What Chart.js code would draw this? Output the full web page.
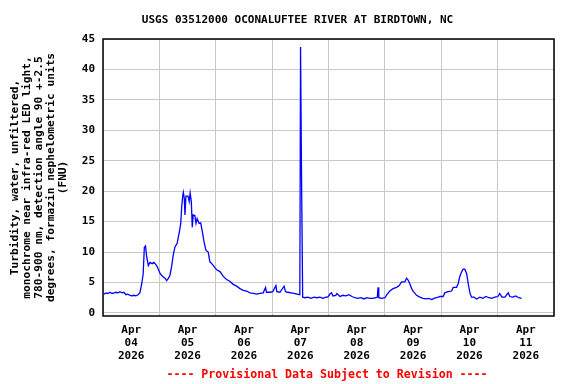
<!DOCTYPE html>
<html>
<head>
<meta charset="utf-8">
<script src="https://cdn.jsdelivr.net/npm/chart.js@4"></script>
<style>
  html, body { margin: 0; padding: 0; background: #fff; }
  #wrap { width: 576px; height: 384px; }
</style>
</head>
<body>
<div id="wrap"><canvas id="myChart" width="576" height="384"></canvas></div>
<script>
const ctx = document.getElementById("myChart");

// hours since Apr 04 2026 00:00
const hours = [
  0.4, 1.3, 2.1, 3.0, 3.8, 4.7, 5.5, 6.4, 7.2, 8.1, 8.9, 9.8, 10.6, 11.5, 12.3, 13.2, 14.0, 14.9, 15.7,
  16.5, 17.1, 17.6, 18.1, 18.6, 19.3, 20.0, 20.9, 21.7, 22.6, 23.2, 24.3, 24.9, 25.7, 26.4, 27.1, 27.9,
  28.5, 29.2, 29.9, 30.6, 31.6, 32.5, 33.1, 33.5, 33.9, 34.2, 34.6, 34.9, 35.3, 36.2, 36.7, 37.1, 37.6,
  38.0, 38.4, 39.1, 39.6, 40.1, 40.9, 41.6, 42.3, 43.0, 43.8, 44.8, 45.5, 46.3, 46.9, 47.7, 48.4, 49.8,
  51.2, 52.6, 54.0, 55.4, 56.9, 58.3, 59.7, 61.1, 62.6, 64.0, 65.4, 66.8, 68.2, 69.2, 69.6, 71.1, 72.3,
  73.6, 74.0, 75.3, 77.1, 77.7, 78.7, 80.0, 81.3, 82.6, 83.8, 84.1, 84.5, 85.0, 86.0, 87.2, 88.5, 89.8,
  91.1, 92.3, 93.6, 94.9, 95.7, 96.6, 97.3, 97.9, 99.1, 99.6, 100.9, 102.1, 103.4, 104.7, 106.0, 107.2,
  108.5, 109.8, 111.1, 112.3, 113.6, 114.9, 116.2, 116.8, 117.1, 117.4, 118.7, 120.0, 121.0, 122.1,
  123.5, 125.0, 126.1, 127.1, 128.5, 129.2, 129.9, 130.6, 131.4, 132.0, 133.5, 134.9, 136.2, 137.4,
  138.7, 140.0, 140.9, 142.0, 143.4, 144.8, 145.5, 146.9, 148.4, 149.1, 150.5, 151.2, 151.9, 152.6,
  153.3, 154.0, 154.8, 155.4, 156.2, 156.9, 157.9, 159.1, 160.4, 161.7, 163.0, 164.3, 165.5, 166.8,
  168.1, 168.9, 169.8, 171.1, 172.5, 173.2, 174.5, 175.7, 177.0, 178.2
];
// turbidity, FNU
const turbidity = [
  3.1, 3.3, 3.2, 3.4, 3.2, 3.3, 3.4, 3.3, 3.5, 3.3, 3.4, 3.0, 3.1, 2.9, 2.8, 2.9, 2.8, 3.0, 3.3,
  4.8, 6.4, 10.8, 11.0, 9.2, 7.8, 8.3, 8.1, 8.3, 7.9, 7.5, 6.5, 6.2, 5.9, 5.7, 5.3, 5.7,
  6.2, 7.6, 9.5, 10.8, 11.5, 13.3, 14.7, 17.4, 19.1, 19.8, 18.8, 16.1, 19.2, 19.2, 18.3, 19.7, 18.3,
  14.1, 16.1, 16.0, 14.7, 15.5, 14.7, 14.8, 13.3, 11.7, 10.3, 10.0, 8.4, 8.1, 7.8, 7.4, 7.1, 6.8,
  6.0, 5.5, 5.2, 4.7, 4.4, 4.0, 3.7, 3.6, 3.3, 3.2, 3.1, 3.2, 3.3, 4.2, 3.4, 3.4, 3.5,
  4.5, 3.5, 3.4, 4.4, 3.5, 3.4, 3.3, 3.2, 3.1, 3.0, 43.7, 23.2, 2.6, 2.5, 2.6, 2.4, 2.6,
  2.5, 2.6, 2.4, 2.6, 2.6, 3.1, 3.3, 2.8, 2.9, 3.2, 2.7, 2.9, 2.8, 3.0, 2.7, 2.5,
  2.4, 2.5, 2.3, 2.5, 2.4, 2.4, 2.5, 2.6, 4.2, 2.5, 2.4, 2.5, 3.1, 3.6,
  4.0, 4.2, 4.5, 5.1, 5.1, 5.7, 5.4, 4.8, 4.0, 3.6, 2.9, 2.6, 2.4, 2.3,
  2.4, 2.2, 2.4, 2.5, 2.7, 2.7, 3.3, 3.5, 3.6, 4.2, 4.2, 4.8, 6.0, 6.7,
  7.2, 7.2, 6.5, 5.0, 3.3, 2.6, 2.6, 2.3, 2.6, 2.4, 2.7, 2.5, 2.4, 2.6,
  2.7, 3.2, 2.6, 2.6, 3.3, 2.7, 2.6, 2.8, 2.5, 2.4
];

const dayLabels = ["04", "05", "06", "07", "08", "09", "10", "11"];
const yTicks = [0, 5, 10, 15, 20, 25, 30, 35, 40, 45];
const yTitle = [
  "Turbidity, water, unfiltered,",
  "monochrome near infra-red LED light,",
  "780-900 nm, detection angle 90 +-2.5",
  "degrees, formazin nephelometric units",
  "(FNU)"
];
const chartTitle = "USGS 03512000 OCONALUFTEE RIVER AT BIRDTOWN, NC";
const footerText = "---- Provisional Data Subject to Revision ----";

const mono = "'DejaVu Sans Mono', 'Liberation Mono', monospace";
Chart.defaults.font.family = mono;
Chart.defaults.font.weight = "bold";
Chart.defaults.font.size = 11;
Chart.defaults.color = "#000";

// frame + title + footer
const extras = {
  id: "extras",
  afterDraw(chart) {
    const c = chart.ctx;
    const a = chart.chartArea;
    c.save();
    c.strokeStyle = "#000";
    c.lineWidth = 1.5;
    c.strokeRect(a.left, a.top, a.right - a.left, a.bottom - a.top);
    c.fillStyle = "#000";
    c.textAlign = "center";
    c.textBaseline = "middle";
    c.font = "bold 11px " + mono;
    c.fillText(chartTitle, 297.5, 20.5);
    c.fillStyle = "#ff0000";
    c.font = "bold 11.6px " + mono;
    c.fillText(footerText, 327, 375);
    c.restore();
  },
};

const myChart = new Chart(ctx, {
  type: "line",
  data: {
    datasets: [
      {
        data: hours.map((h, i) => ({ x: h, y: turbidity[i] })),
        borderColor: "#0000ff",
        borderWidth: 1.3,
        pointRadius: 0,
        tension: 0,
        fill: false,
      },
    ],
  },
  options: {
    responsive: false,
    animation: false,
    layout: { padding: { top: 39, left: 0, right: 22, bottom: 18 } },
    plugins: {
      legend: { display: false },
      tooltip: { enabled: false },
    },
    scales: {
      x: {
        type: "linear",
        min: 0,
        max: 192,
        afterBuildTicks: (scale) => {
          const t = [];
          for (let v = 0; v <= 192; v += 12) t.push({ value: v });
          scale.ticks = t;
        },
        afterFit: (scale) => { scale.height = 50; },
        grid: {
          color: (c) => (c.tick && c.tick.value % 24 === 0 ? "#c8c8c8" : "rgba(0,0,0,0)"),
          lineWidth: 1,
          drawTicks: false,
        },
        border: { display: false },
        ticks: {
          autoSkip: false,
          maxRotation: 0,
          padding: 8,
          font: { size: 11, weight: "bold", lineHeight: "13px" },
          callback: (v) => {
            if (v % 24 !== 12) return "";
            return ["Apr", dayLabels[Math.floor(v / 24)], "2026"];
          },
        },
      },
      y: {
        min: -0.5,
        max: 45,
        afterBuildTicks: (scale) => {
          scale.ticks = yTicks.map((v) => ({ value: v }));
        },
        afterFit: (scale) => { scale.width = 103; },
        grid: { color: "#c8c8c8", lineWidth: 1, drawTicks: false },
        border: { display: false },
        ticks: { padding: 8, font: { size: 11, weight: "bold" } },
        title: {
          display: true,
          text: yTitle,
          font: { size: 11.2, weight: "bold", lineHeight: "12px" },
          padding: { top: 9, bottom: 0 },
        },
      },
    },
  },
  plugins: [extras],
});
</script>
</body>
</html>
